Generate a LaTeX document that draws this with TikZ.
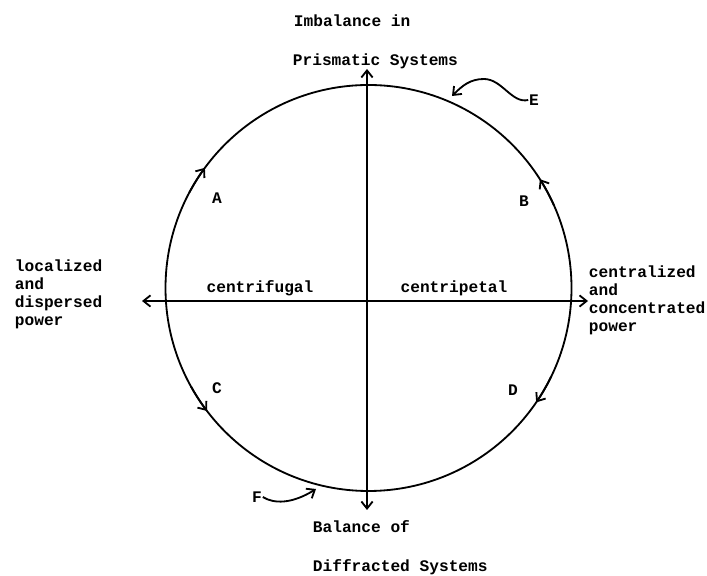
\documentclass[tikz,border=0pt]{standalone}
\usepackage{fontspec}
\setmonofont{Liberation Mono}
\usetikzlibrary{arrows.meta, positioning, calc}

\begin{document}
\begin{tikzpicture}[x=0.025cm, y=0.025cm, line width=1.3pt,
    >={Straight Barb[length=5pt, width=8pt]},
    lbl/.style={font=\ttfamily\bfseries\fontsize{11.5}{12.8}\selectfont, inner sep=0pt, align=left}]
        \useasboundingbox (0,0) rectangle (707,576);

        % Circle and axes
        \coordinate (centre) at (368.5,288);
        \draw (centre) circle (203);
        \coordinate (west) at (142,275);
        \coordinate (east) at (588,275);
        \coordinate (north) at (367,507);
        \coordinate (south) at (367,66);
        \draw[<->] (west) -- (east);
        \draw[<->] (south) -- (north);

        % Arrows on the circle
        \draw[->] ($(centre)+(152:203)$) arc (152:143.7:203);
        \draw[->] ($(centre)+(24:203)$) arc (24:32.4:203);
        \draw[->] ($(centre)+(209:203)$) arc (209:217.3:203);
        \draw[->] ($(centre)+(-26:203)$) arc (-26:-34.3:203);

        % Texts
        \node[lbl, anchor=west] (imbal) at (293,555) {Imbalance in};
        \node[lbl, anchor=west] (prism) at (292,515) {Prismatic Systems};
        \node[lbl, anchor=west] (bal) at (312,49) {Balance of};
        \node[lbl, anchor=west] (diffr) at (312,9) {Diffracted Systems};
        \node[lbl, anchor=west] (local) at (14,282) {localized\\and\\dispersed\\power};
        \node[lbl, anchor=west] (central) at (588,276) {centralized\\and\\concentrated\\power};
        \node[lbl] (fugal) at (260,288) {centrifugal};
        \node[lbl] (petal) at (454,288) {centripetal};

        \node[lbl] (a) at (217,378) {A};
        \node[lbl] (b) at (524,375) {B};
        \node[lbl] (c) at (217,188) {C};
        \node[lbl] (d) at (513,186) {D};

        % E and F pointers
        \node[lbl] (e) at (534,476) {E};
        \node[lbl] (f) at (257,79) {F};
        \coordinate (eTip) at (452,480);
        \coordinate (fTip) at (316,87);
        \draw[->] (e.west) .. controls (512,472) and (502,497) .. (484,497) .. controls (470,497) and (462,490) .. (eTip);
        \draw[->] (f.east) .. controls (274,72) and (292,72) .. (fTip);
    \end{tikzpicture}
\end{document}
